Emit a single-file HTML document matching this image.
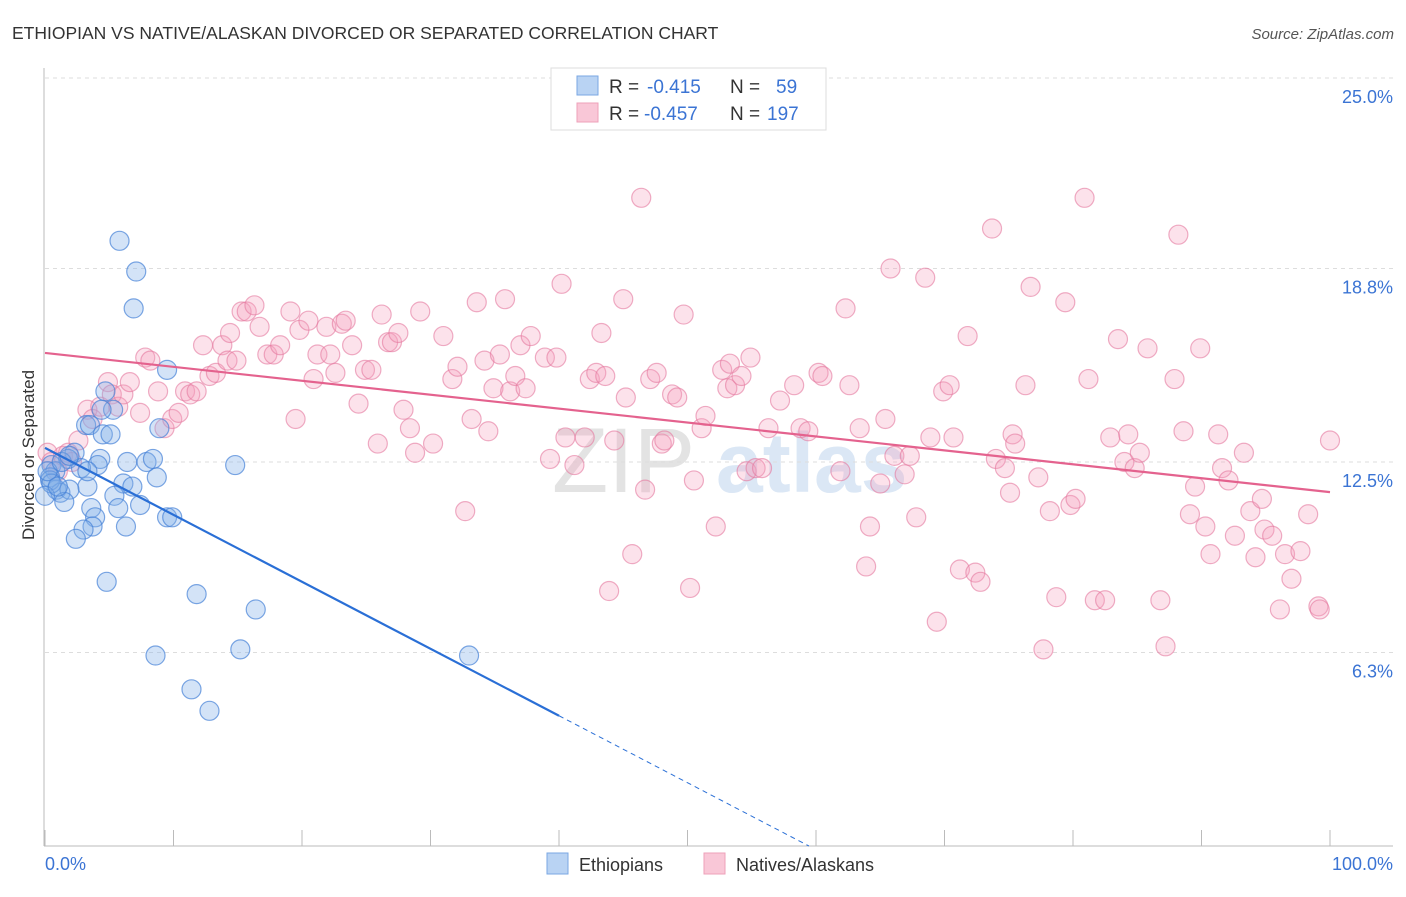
<!DOCTYPE html>
<html><head><meta charset="utf-8"><style>
body{margin:0;background:#fff;font-family:"Liberation Sans",sans-serif;}
svg text{font-family:"Liberation Sans",sans-serif;}
</style></head><body>
<svg id="chart" width="1406" height="892" viewBox="0 0 1406 892" xmlns="http://www.w3.org/2000/svg">
<text x="12" y="39" font-size="17.5" fill="#333">ETHIOPIAN VS NATIVE/ALASKAN DIVORCED OR SEPARATED CORRELATION CHART</text>
<text x="1394" y="39" font-size="15" fill="#555" text-anchor="end" font-style="italic">Source: ZipAtlas.com</text>
<g>
<text x="552" y="492" font-size="92" fill="#e3e3e3" font-family="Liberation Serif, serif">ZIP</text>
<text x="716" y="492" font-size="84" fill="#dbe7f5" font-weight="bold">atlas</text>
</g>
<g id="grid"></g>
<g id="axes"></g>
<g id="pink"></g>
<g id="blue"></g>
<g id="lines"></g>
<text transform="translate(34,455) rotate(-90)" font-size="17" fill="#333" text-anchor="middle">Divorced or Separated</text>
<g>
<rect x="551" y="68" width="275" height="62" fill="#fff" stroke="#ddd"/>
<rect x="577" y="76" width="21" height="19" fill="#b9d3f3" stroke="#7aa7e3"/>
<rect x="577" y="103" width="21" height="19" fill="#f9c7d7" stroke="#eea0ba"/>
<text x="609" y="93" font-size="19" fill="#333">R =</text>
<text x="647" y="93" font-size="19" fill="#3b74d4">-0.415</text>
<text x="730" y="93" font-size="19" fill="#333">N =</text>
<text x="776" y="93" font-size="19" fill="#3b74d4">59</text>
<text x="609" y="120" font-size="19" fill="#333">R =</text>
<text x="644" y="120" font-size="19" fill="#3b74d4">-0.457</text>
<text x="730" y="120" font-size="19" fill="#333">N =</text>
<text x="767" y="120" font-size="19" fill="#3b74d4">197</text>
</g>
<g>
<rect x="547" y="853" width="21" height="21" fill="#b9d3f3" stroke="#7aa7e3"/>
<text x="579" y="871" font-size="18" fill="#333">Ethiopians</text>
<rect x="704" y="853" width="21" height="21" fill="#f9c7d7" stroke="#eea0ba"/>
<text x="736" y="871" font-size="18" fill="#333">Natives/Alaskans</text>
</g>
</svg>
<script>
const yTicks=[6.3,12.5,18.8,25.0];
const yTickLabels=["6.3%","12.5%","18.8%","25.0%"];
const xTickCount=10;
const xLabels=["0.0%","100.0%"];
const blueX=[5.8,7.1,6.9,9.5,4.7,5.3,4.4,3.2,3.5,4.5,5.1,8.9,2.3,1.8,4.3,6.4,7.9,8.4,14.8,4.1,2.8,0.5,0.8,0.4,3.3,6.1,6.8,8.7,0.9,1.2,1.9,1.5,5.4,5.7,7.4,9.5,9.9,3.6,3.9,3.7,6.3,3.0,2.4,4.8,11.8,16.4,8.6,15.2,33.0,11.4,12.8,0.4,0.5,0.2,1.3,1.9,3.3,0,1.0];
const blueY=[19.7,18.7,17.5,15.5,14.8,14.2,14.2,13.7,13.7,13.4,13.4,13.6,12.8,12.6,12.6,12.5,12.5,12.6,12.4,12.4,12.3,12.4,12.2,12.0,11.7,11.8,11.7,12.0,11.6,11.5,11.6,11.2,11.4,11.0,11.1,10.7,10.7,11.0,10.7,10.4,10.4,10.3,10.0,8.6,8.2,7.7,6.2,6.4,6.2,5.1,4.4,11.9,11.8,12.2,12.5,12.7,12.2,11.4,11.7];
const pinkX=[0.2,0.5,1.0,1.4,1.8,2.1,2.6,3.3,3.7,4.3,4.9,5.2,5.7,6.1,6.6,7.4,7.8,8.2,8.8,9.3,9.9,10.4,10.9,11.3,11.8,12.3,12.8,13.3,13.8,14.2,14.4,14.9,15.3,15.7,16.3,16.7,17.3,17.8,18.3,19.1,19.5,19.8,20.5,20.9,21.2,21.9,22.2,22.6,23.1,23.4,23.9,24.4,24.9,25.4,25.9,26.2,26.7,27.0,27.5,27.9,28.4,28.8,29.2,30.2,31.0,31.7,32.1,32.7,33.2,33.6,34.2,34.5,34.9,35.4,35.8,36.2,36.6,37.0,37.4,37.8,38.9,39.3,39.8,40.2,40.5,41.2,42.0,42.4,42.9,43.3,43.6,43.9,44.3,45.0,45.2,45.7,46.4,46.7,47.1,47.6,48.0,48.2,48.8,49.2,49.7,50.2,50.5,51.1,51.4,52.2,52.7,53.1,53.3,53.7,54.2,54.6,54.9,55.3,55.8,56.3,57.2,58.3,58.8,59.4,60.2,60.5,61.9,62.3,62.6,63.4,63.9,64.2,65.0,65.4,65.8,66.1,66.9,67.3,67.8,68.5,68.9,69.4,69.9,70.4,70.7,71.2,71.8,72.4,72.8,73.7,74.0,74.7,75.1,75.3,75.5,76.3,76.7,77.3,77.7,78.2,78.7,79.4,79.8,80.2,80.9,81.2,81.7,82.5,82.9,83.5,84.0,84.3,84.8,85.2,85.8,86.8,87.2,87.9,88.2,88.6,89.1,89.5,89.9,90.3,90.7,91.3,91.6,92.1,92.6,93.3,93.8,94.2,94.7,94.9,95.5,96.1,96.5,97.0,97.7,98.3,99.1,99.2,100];
const pinkY=[12.8,12.5,12.2,12.7,12.8,12.5,13.2,14.2,13.9,14.3,15.1,14.7,14.3,14.7,15.1,14.1,15.9,15.8,14.8,13.6,13.9,14.1,14.8,14.7,14.8,16.3,15.3,15.4,16.3,15.8,16.7,15.8,17.4,17.4,17.6,16.9,16.0,16.0,16.3,17.4,13.9,16.8,17.1,15.2,16.0,16.9,16.0,15.4,17.0,17.1,16.3,14.4,15.5,15.5,13.1,17.3,16.4,16.4,16.7,14.2,13.6,12.8,17.4,13.1,16.6,15.2,15.6,10.9,13.9,17.7,15.8,13.5,14.9,16.0,17.8,14.8,15.3,16.3,14.9,16.6,15.9,12.6,15.9,18.3,13.3,12.4,13.3,15.2,15.4,16.7,15.3,8.3,13.2,17.8,14.6,9.5,21.1,11.6,15.2,15.4,13.1,13.2,14.7,14.6,17.3,8.4,11.9,13.6,14.0,10.4,15.5,14.9,15.7,15.0,15.3,12.2,15.9,12.3,12.3,13.6,14.5,15.0,13.6,13.5,15.4,15.3,12.2,17.5,15.0,13.6,9.1,10.4,11.8,13.9,18.8,12.7,12.1,12.7,10.7,18.5,13.3,7.3,14.8,15.0,13.3,9.0,16.6,8.9,8.6,20.1,12.6,12.3,11.5,13.4,13.1,15.0,18.2,12.0,6.4,10.9,8.1,17.7,11.1,11.3,21.1,15.2,8.0,8.0,13.3,16.5,12.5,13.4,12.3,12.8,16.2,8.0,6.5,15.2,19.9,13.5,10.8,11.7,16.2,10.4,9.5,13.4,12.3,11.9,10.1,12.8,10.9,9.4,11.3,10.3,10.1,7.7,9.5,8.7,9.6,10.8,7.8,7.7,13.2];
const blueTrend=[12.96,-0.218];
const pinkTrend=[16.05,-0.0453];
const blueSolidEnd=40;

const NS="http://www.w3.org/2000/svg";
const X0=45,X1=1330,Y0=846,YTOP=78,YMAX=25;
const sx=v=>X0+(v/100)*(X1-X0);
const sy=v=>Y0-(v/YMAX)*(Y0-YTOP);
function mk(tag,attrs,parent){const e=document.createElementNS(NS,tag);for(const k in attrs)e.setAttribute(k,attrs[k]);parent.appendChild(e);return e;}
const grid=document.getElementById('grid'),axes=document.getElementById('axes');
yTicks.forEach((t,i)=>{
  const l=mk('line',{x1:X0,x2:1393,y1:sy(t),y2:sy(t),stroke:'#ddd','stroke-dasharray':'4,4'},grid);
  
  
  const tx=mk('text',{x:1393,y:sy(t)+25,'font-size':18,fill:'#3b74d4','text-anchor':'end'},axes);
  tx.textContent=yTickLabels[i];
  
  
});
const tg=mk('line',{x1:X0,x2:1393,y1:sy(25),y2:sy(25),stroke:'#ddd','stroke-dasharray':'4,4'},grid);


const ya=mk('line',{x1:44,x2:44,y1:68,y2:Y0,stroke:'#bbb'},axes);


const xa=mk('line',{x1:44,x2:1393,y1:Y0,y2:Y0,stroke:'#bbb'},axes);


for(let i=0;i<=xTickCount;i++){
  const v=i*100/xTickCount;
  const t=mk('line',{x1:sx(v),x2:sx(v),y1:Y0-16,y2:Y0,stroke:'#bbb'},axes);
  
  
}
const xl0=mk('text',{x:45,y:870,'font-size':18,fill:'#3b74d4'},axes);xl0.textContent=xLabels[0];


const xl1=mk('text',{x:1393,y:870,'font-size':18,fill:'#3b74d4','text-anchor':'end'},axes);xl1.textContent=xLabels[1];



const pg=document.getElementById('pink');
pinkX.forEach((x,i)=>{
  const c=mk('circle',{cx:sx(x),cy:sy(pinkY[i]),r:9.5,fill:'rgba(244,160,188,0.3)',stroke:'rgba(228,120,158,0.6)','stroke-width':1.2},pg);
  
  
});
const bg=document.getElementById('blue');
blueX.forEach((x,i)=>{
  const c=mk('circle',{cx:sx(x),cy:sy(blueY[i]),r:9.5,fill:'rgba(130,175,232,0.35)',stroke:'rgba(70,130,215,0.7)','stroke-width':1.2},bg);
  
  
});
const lg=document.getElementById('lines');
const by=v=>blueTrend[0]+blueTrend[1]*v;
const bl=mk('line',{x1:sx(0),y1:sy(by(0)),x2:sx(blueSolidEnd),y2:sy(by(blueSolidEnd)),stroke:'#2a6fd6','stroke-width':2.2},lg);


const zeroX=-blueTrend[0]/blueTrend[1];
const bd=mk('line',{x1:sx(blueSolidEnd),y1:sy(by(blueSolidEnd)),x2:sx(zeroX),y2:sy(0),stroke:'#2a6fd6','stroke-width':1,'stroke-dasharray':'5,4'},lg);


const py=v=>pinkTrend[0]+pinkTrend[1]*v;
const pl=mk('line',{x1:sx(0),y1:sy(py(0)),x2:sx(100),y2:sy(py(100)),stroke:'#e4628e','stroke-width':2.2},lg);


</script>
</body></html>
